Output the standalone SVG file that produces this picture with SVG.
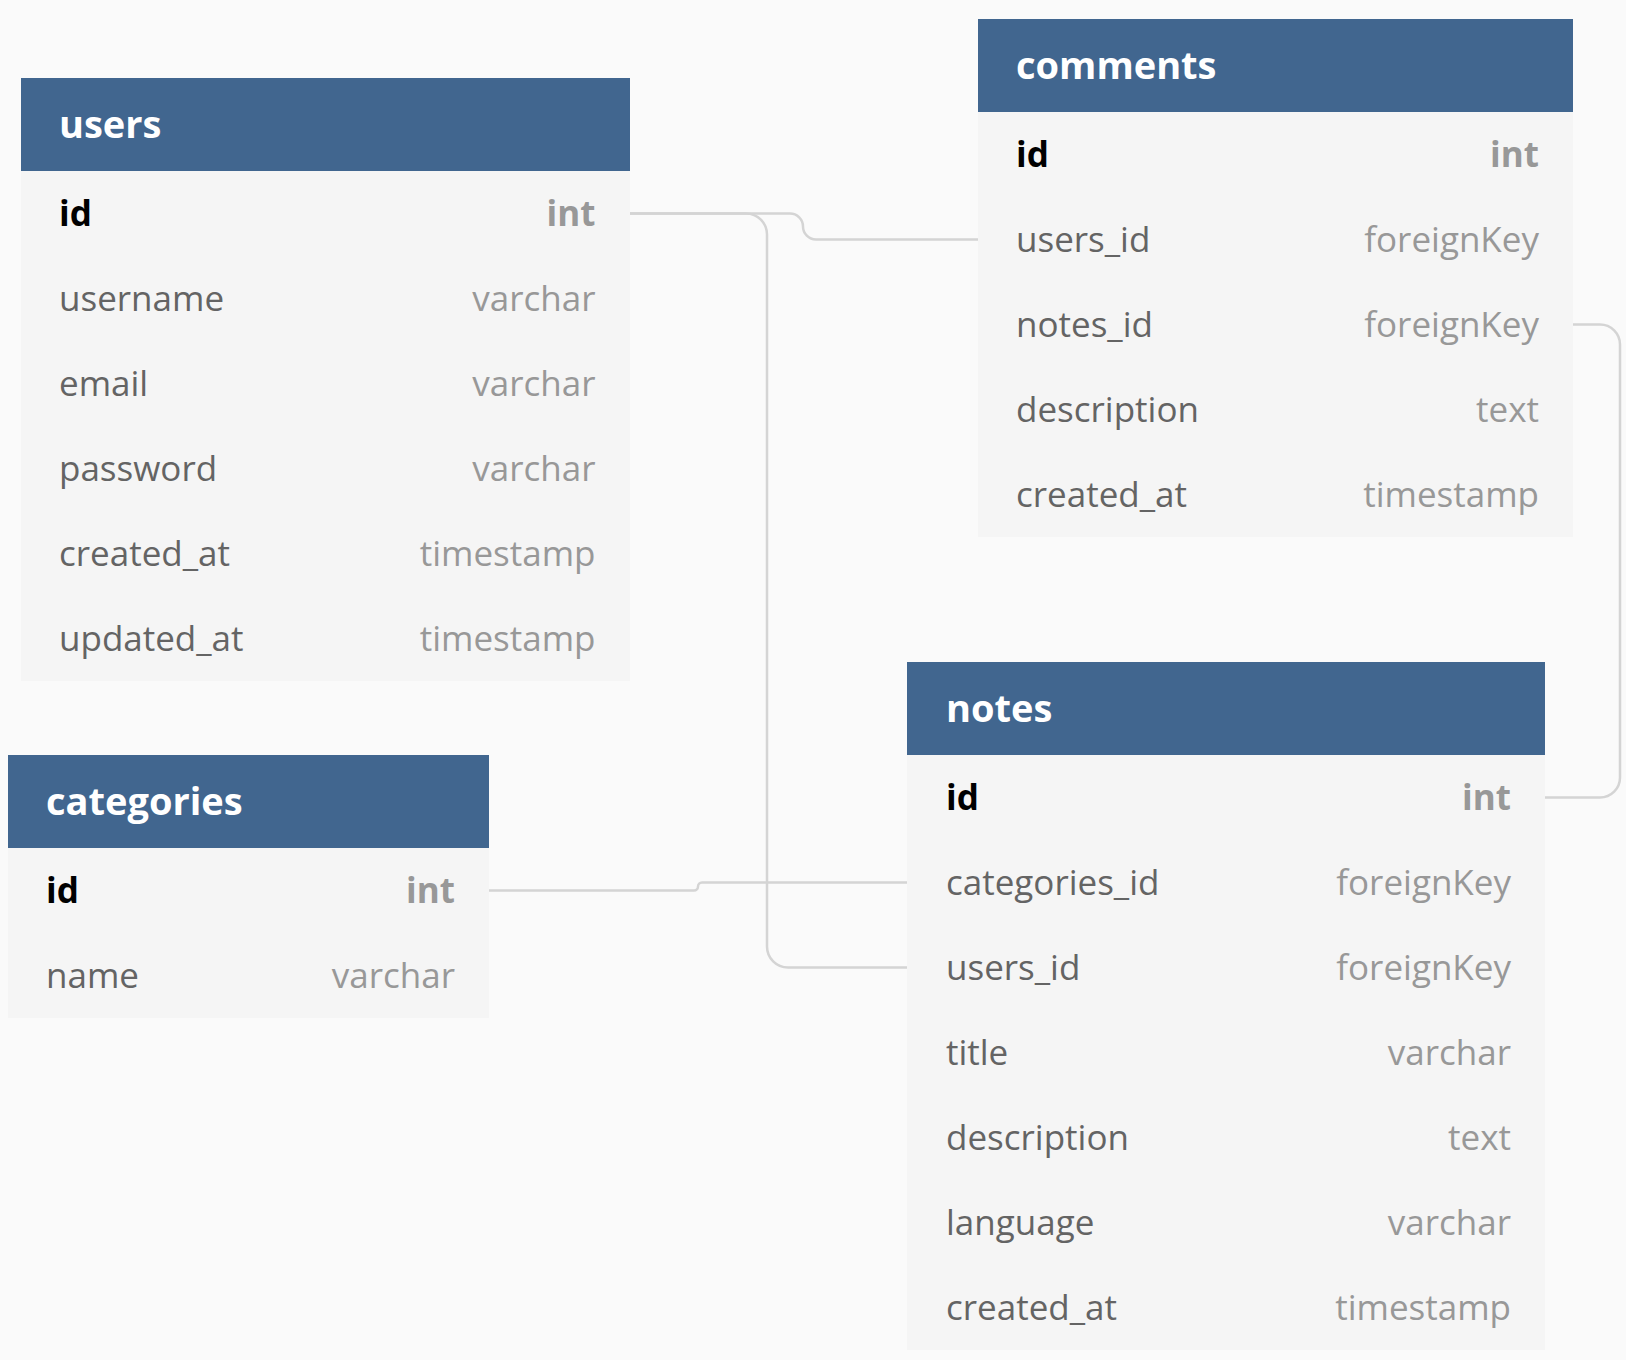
<svg xmlns="http://www.w3.org/2000/svg" width="1626" height="1360" viewBox="0 0 1626 1360">
<style>
.bg{fill:#fafafa}
.hd{fill:#41668f}
.bd{fill:#f5f5f5}
.tt{font-family:"Open Sans","Noto Sans",sans-serif;font-weight:700;font-size:38px;fill:#ffffff}
.fn{font-family:"Open Sans","Noto Sans",sans-serif;font-size:35px;fill:#646464}
.ft{font-family:"Open Sans","Noto Sans",sans-serif;font-size:35px;fill:#989898;text-anchor:end}
.pk{font-family:"Open Sans","Noto Sans",sans-serif;font-weight:700;font-size:35px;fill:#000000}
.pt{font-family:"Open Sans","Noto Sans",sans-serif;font-weight:700;font-size:35px;fill:#989898;text-anchor:end}
.cn{fill:none;stroke:#d4d4d4;stroke-width:2.5}
</style>
<rect class="bg" x="0" y="0" width="1626" height="1360"/>
<g id="connectors">
<path class="cn" d="M630,213.5 H790 A13,13 0 0 1 803,226.5 A13,13 0 0 0 816,239.5 H978"/>
<path class="cn" d="M630,213.5 H746 A21,21 0 0 1 767,234.5 V946.5 A21,21 0 0 0 788,967.5 H907"/>
<path class="cn" d="M489,890.5 H694 A4,4 0 0 0 698,886.5 A4,4 0 0 1 702,882.5 H907"/>
<path class="cn" d="M1573,324.5 H1600 A20,20 0 0 1 1620,344.5 V777.5 A20,20 0 0 1 1600,797.5 H1545"/>
</g>
<g id="users">
<rect class="bd" x="21" y="171" width="609" height="510"/>
<rect class="hd" x="21" y="78" width="609" height="93"/>
<text class="tt" x="59" y="137.5">users</text>
<text class="pk" x="59" y="226">id</text><text class="pt" x="595.5" y="226">int</text>
<text class="fn" x="59" y="311">username</text><text class="ft" x="595.5" y="311">varchar</text>
<text class="fn" x="59" y="396">email</text><text class="ft" x="595.5" y="396">varchar</text>
<text class="fn" x="59" y="481">password</text><text class="ft" x="595.5" y="481">varchar</text>
<text class="fn" x="59" y="566">created_at</text><text class="ft" x="595.5" y="566">timestamp</text>
<text class="fn" x="59" y="651">updated_at</text><text class="ft" x="595.5" y="651">timestamp</text>
</g>
<g id="comments">
<rect class="bd" x="978" y="112" width="595" height="425"/>
<rect class="hd" x="978" y="19" width="595" height="93"/>
<text class="tt" x="1016" y="78.5">comments</text>
<text class="pk" x="1016" y="167">id</text><text class="pt" x="1539" y="167">int</text>
<text class="fn" x="1016" y="252">users_id</text><text class="ft" x="1539" y="252">foreignKey</text>
<text class="fn" x="1016" y="337">notes_id</text><text class="ft" x="1539" y="337">foreignKey</text>
<text class="fn" x="1016" y="422">description</text><text class="ft" x="1539" y="422">text</text>
<text class="fn" x="1016" y="507">created_at</text><text class="ft" x="1539" y="507">timestamp</text>
</g>
<g id="notes">
<rect class="bd" x="907" y="755" width="638" height="595"/>
<rect class="hd" x="907" y="662" width="638" height="93"/>
<text class="tt" x="946" y="721.5">notes</text>
<text class="pk" x="946" y="810">id</text><text class="pt" x="1511" y="810">int</text>
<text class="fn" x="946" y="895">categories_id</text><text class="ft" x="1511" y="895">foreignKey</text>
<text class="fn" x="946" y="980">users_id</text><text class="ft" x="1511" y="980">foreignKey</text>
<text class="fn" x="946" y="1065">title</text><text class="ft" x="1511" y="1065">varchar</text>
<text class="fn" x="946" y="1150">description</text><text class="ft" x="1511" y="1150">text</text>
<text class="fn" x="946" y="1235">language</text><text class="ft" x="1511" y="1235">varchar</text>
<text class="fn" x="946" y="1320">created_at</text><text class="ft" x="1511" y="1320">timestamp</text>
</g>
<g id="categories">
<rect class="bd" x="8" y="848" width="481" height="170"/>
<rect class="hd" x="8" y="755" width="481" height="93"/>
<text class="tt" x="46" y="814.5">categories</text>
<text class="pk" x="46" y="903">id</text><text class="pt" x="455" y="903">int</text>
<text class="fn" x="46" y="988">name</text><text class="ft" x="455" y="988">varchar</text>
</g>
</svg>
